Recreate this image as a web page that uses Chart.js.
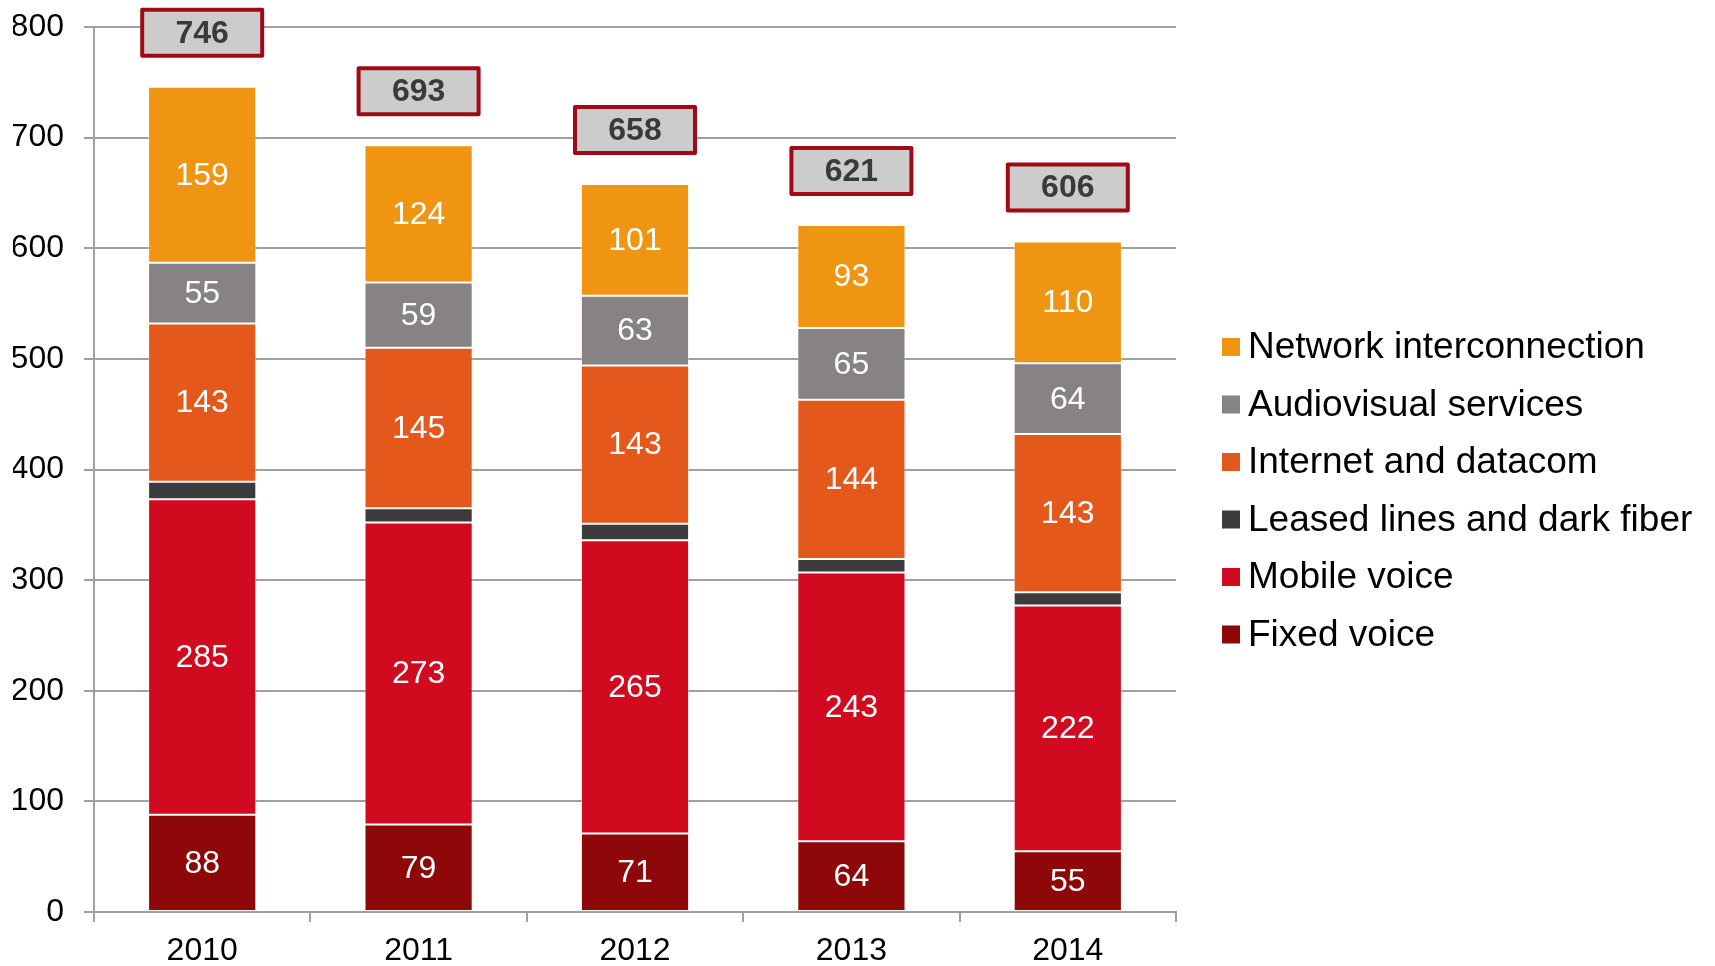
<!DOCTYPE html>
<html><head><meta charset="utf-8">
<script src="https://cdn.jsdelivr.net/npm/chart.js@4"></script>
<style>html,body{margin:0;padding:0;background:#fff}#wrap{width:1715px;height:966px}</style>
</head><body><div id="wrap"><canvas id="c"></canvas></div>
<script>
const categories = ['2010','2011','2012','2013','2014'];
const fixedVoice = [88,79,71,64,55];
const mobileVoice = [285,273,265,243,222];
const leasedLines = [16,13,15,12,12];
const internetData = [143,145,143,144,143];
const audiovisual = [55,59,63,65,64];
const networkInter = [159,124,101,93,110];
const totals = [746,693,658,621,606];
const yTicks = [0,100,200,300,400,500,600,700,800];

const FONT = '"Liberation Sans", Arial, sans-serif';

const series = [
  {label:'Fixed voice', data:fixedVoice, color:'#8E0709', showLabel:true},
  {label:'Mobile voice', data:mobileVoice, color:'#D20A20', showLabel:true},
  {label:'Leased lines and dark fiber', data:leasedLines, color:'#3C3C3C', showLabel:false},
  {label:'Internet and datacom', data:internetData, color:'#E5581C', showLabel:true},
  {label:'Audiovisual services', data:audiovisual, color:'#878283', showLabel:true},
  {label:'Network interconnection', data:networkInter, color:'#F09511', showLabel:true}
];

const labelPlugin = {
  id:'labels',
  afterDatasetsDraw(chart){
    const ctx = chart.ctx;
    ctx.save();
    ctx.textAlign='center'; ctx.textBaseline='middle';
    ctx.font = '32px ' + FONT;
    ctx.fillStyle='#ffffff';
    chart.data.datasets.forEach((ds,di)=>{
      if(!series[di].showLabel) return;
      const meta = chart.getDatasetMeta(di);
      meta.data.forEach((el,i)=>{
        const y = (el.y + el.base)/2;
        ctx.fillText(String(ds.data[i]), el.x, y+1);
      });
    });
    const top = chart.getDatasetMeta(chart.data.datasets.length-1);
    top.data.forEach((el,i)=>{
      const yScale = chart.scales.y;
      const yTop = yScale.getPixelForValue(totals[i]);
      const w=120, h=46;
      const cx = el.x, cy = yTop - 31 - h/2;
      ctx.fillStyle='#CCCCCC';
      ctx.fillRect(cx-w/2, cy-h/2, w, h);
      ctx.lineWidth=4; ctx.strokeStyle='#A00A16';
      ctx.lineJoin='round';
      ctx.strokeRect(cx-w/2, cy-h/2, w, h);
      ctx.fillStyle='#3A3A3A';
      ctx.font='bold 32px ' + FONT;
      ctx.fillText(String(totals[i]), cx, cy+1);
    });
    const order = series.slice().reverse();
    ctx.textAlign='left';
    ctx.font='37px ' + FONT;
    order.forEach((s,k)=>{
      const cy = 347 + k*57.5;
      ctx.fillStyle = s.color;
      ctx.fillRect(1222, cy-9, 18, 18);
      ctx.fillStyle='#000000';
      ctx.fillText(s.label, 1248, cy+1);
    });
    ctx.restore();
  }
};

new Chart(document.getElementById('c'), {
  type:'bar',
  data:{
    labels:categories,
    datasets: series.map(s=>({label:s.label, data:s.data, backgroundColor:s.color,
      borderColor:'rgba(255,255,255,0.35)', borderWidth:1, borderSkipped:false,
      barPercentage:0.5, categoryPercentage:1.0}))
  },
  options:{
    responsive:true, maintainAspectRatio:false, animation:false,
    layout:{autoPadding:false, padding:{left:13, right:539, top:27, bottom:0}},
    plugins:{legend:{display:false}, tooltip:{enabled:false}},
    scales:{
      x:{stacked:true,
        afterFit(scale){ scale.height = 54; scale.paddingLeft=0; scale.paddingRight=0; },
        grid:{display:true, offset:true, drawOnChartArea:false, drawTicks:true, tickLength:10, color:'#A0A0A0', lineWidth:2},
        border:{display:true, color:'#A0A0A0', width:2},
        ticks:{color:'#000', font:{family:FONT, size:32}, padding:10}
      },
      y:{stacked:true, min:0, max:800,
        afterFit(scale){ scale.width = 81; scale.paddingTop=0; scale.paddingBottom=0; },
        afterBuildTicks(scale){ scale.ticks = yTicks.map(v=>({value:v})); },
        grid:{color:'#A0A0A0', lineWidth:2, tickLength:10},
        border:{display:true, color:'#A0A0A0', width:2},
        ticks:{color:'#000', font:{family:FONT, size:32}, padding:20}
      }
    }
  },
  plugins:[labelPlugin]
});
</script></body></html>
